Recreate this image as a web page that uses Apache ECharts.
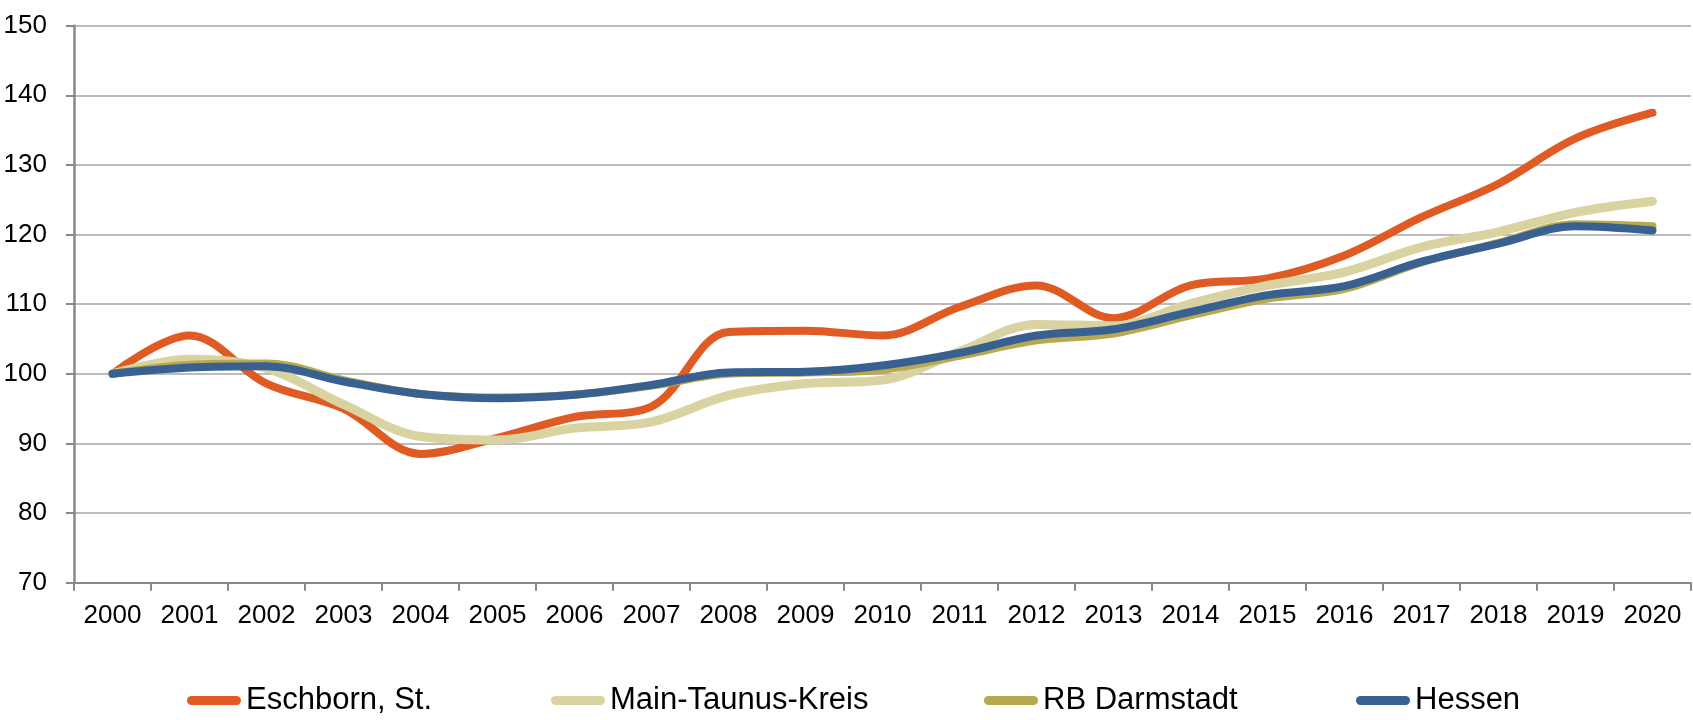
<!DOCTYPE html>
<html>
<head>
<meta charset="utf-8">
<script src="https://cdn.jsdelivr.net/npm/echarts@6/dist/echarts.min.js"></script>
<style>
html,body{margin:0;padding:0;background:#fff;}
#chart{width:1693px;height:720px;}
</style>
</head>
<body>
<div id="chart"></div>
<script>
var years = ['2000','2001','2002','2003','2004','2005','2006','2007','2008','2009','2010','2011','2012','2013','2014','2015','2016','2017','2018','2019','2020'];
var eschborn = [100, 105.5, 98.6, 95.0, 88.5, 90.8, 93.8, 95.3, 106.0, 106.2, 105.5, 109.6, 112.7, 108.0, 112.7, 113.7, 117.0, 122.5, 127.3, 133.8, 137.5];
var mainTaunus = [100, 102.1, 100.8, 95.6, 91.0, 90.5, 92.2, 93.1, 96.9, 98.6, 99.1, 103.2, 107.1, 106.9, 110.1, 112.7, 114.6, 118.2, 120.4, 123.2, 124.8];
var rbDarmstadt = [100, 101.3, 101.5, 99.1, 97.1, 96.6, 97.0, 98.3, 100.0, 100.2, 100.6, 102.6, 104.8, 105.8, 108.4, 110.8, 112.2, 116.0, 118.8, 121.5, 121.2];
var hessen = [100, 100.9, 101.1, 98.9, 97.1, 96.5, 97.0, 98.4, 100.2, 100.3, 101.2, 103.0, 105.5, 106.4, 108.9, 111.3, 112.6, 116.1, 118.7, 121.2, 120.6];
var seriesNames = ['Eschborn, St.', 'Main-Taunus-Kreis', 'RB Darmstadt', 'Hessen'];
var colors = ['#E05A24', '#D8D3A0', '#B8A84E', '#386192'];
var widths = [8, 9, 8, 8];
var legendLefts = [187, 551, 984, 1356];

var FONT = '"Liberation Sans Narrow", "Arial Narrow", "Liberation Sans", Arial, sans-serif';
var chart = echarts.init(document.getElementById('chart'), null, {renderer: 'canvas'});
var dataSets = [eschborn, mainTaunus, rbDarmstadt, hessen];
var capsule = 'path://M5,0 L55,0 A5,5 0 0 1 55,10 L5,10 A5,5 0 0 1 5,0 Z';

chart.setOption({
  animation: false,
  backgroundColor: '#ffffff',
  color: colors,
  grid: {left: 74, right: 2, top: 25.7, bottom: 137.3, containLabel: false},
  legend: seriesNames.map(function (n, i) {
    return {
      left: legendLefts[i], top: 685, padding: 0,
      itemWidth: 58, itemHeight: 9,
      icon: capsule,
      textStyle: {fontFamily: FONT, fontSize: 31, color: '#000', padding: [0,0,0,-2]},
      data: [n]
    };
  }),
  xAxis: {
    type: 'category',
    data: years,
    boundaryGap: true,
    axisLine: {lineStyle: {color: '#888888', width: 2}},
    axisTick: {show: true, length: 8, lineStyle: {color: '#888888', width: 2}},
    axisLabel: {fontFamily: FONT, fontSize: 26, color: '#000', margin: 20, interval: 0}
  },
  yAxis: {
    type: 'value',
    min: 70, max: 150, interval: 10,
    axisLine: {show: true, lineStyle: {color: '#888888', width: 2.5}},
    axisTick: {show: true, length: 8, lineStyle: {color: '#888888', width: 2}},
    axisLabel: {fontFamily: FONT, fontSize: 26, color: '#000', margin: 27},
    splitLine: {lineStyle: {color: '#A6A6A6', width: 1.5}}
  },
  series: dataSets.map(function (d, i) {
    return {
      name: seriesNames[i],
      type: 'line',
      data: d,
      smooth: 0.35,
      symbol: 'none',
      lineStyle: {color: colors[i], width: widths[i], cap: 'round', join: 'round'},
      itemStyle: {color: colors[i]},
      z: 2 + i
    };
  })
});
</script>
</body>
</html>
